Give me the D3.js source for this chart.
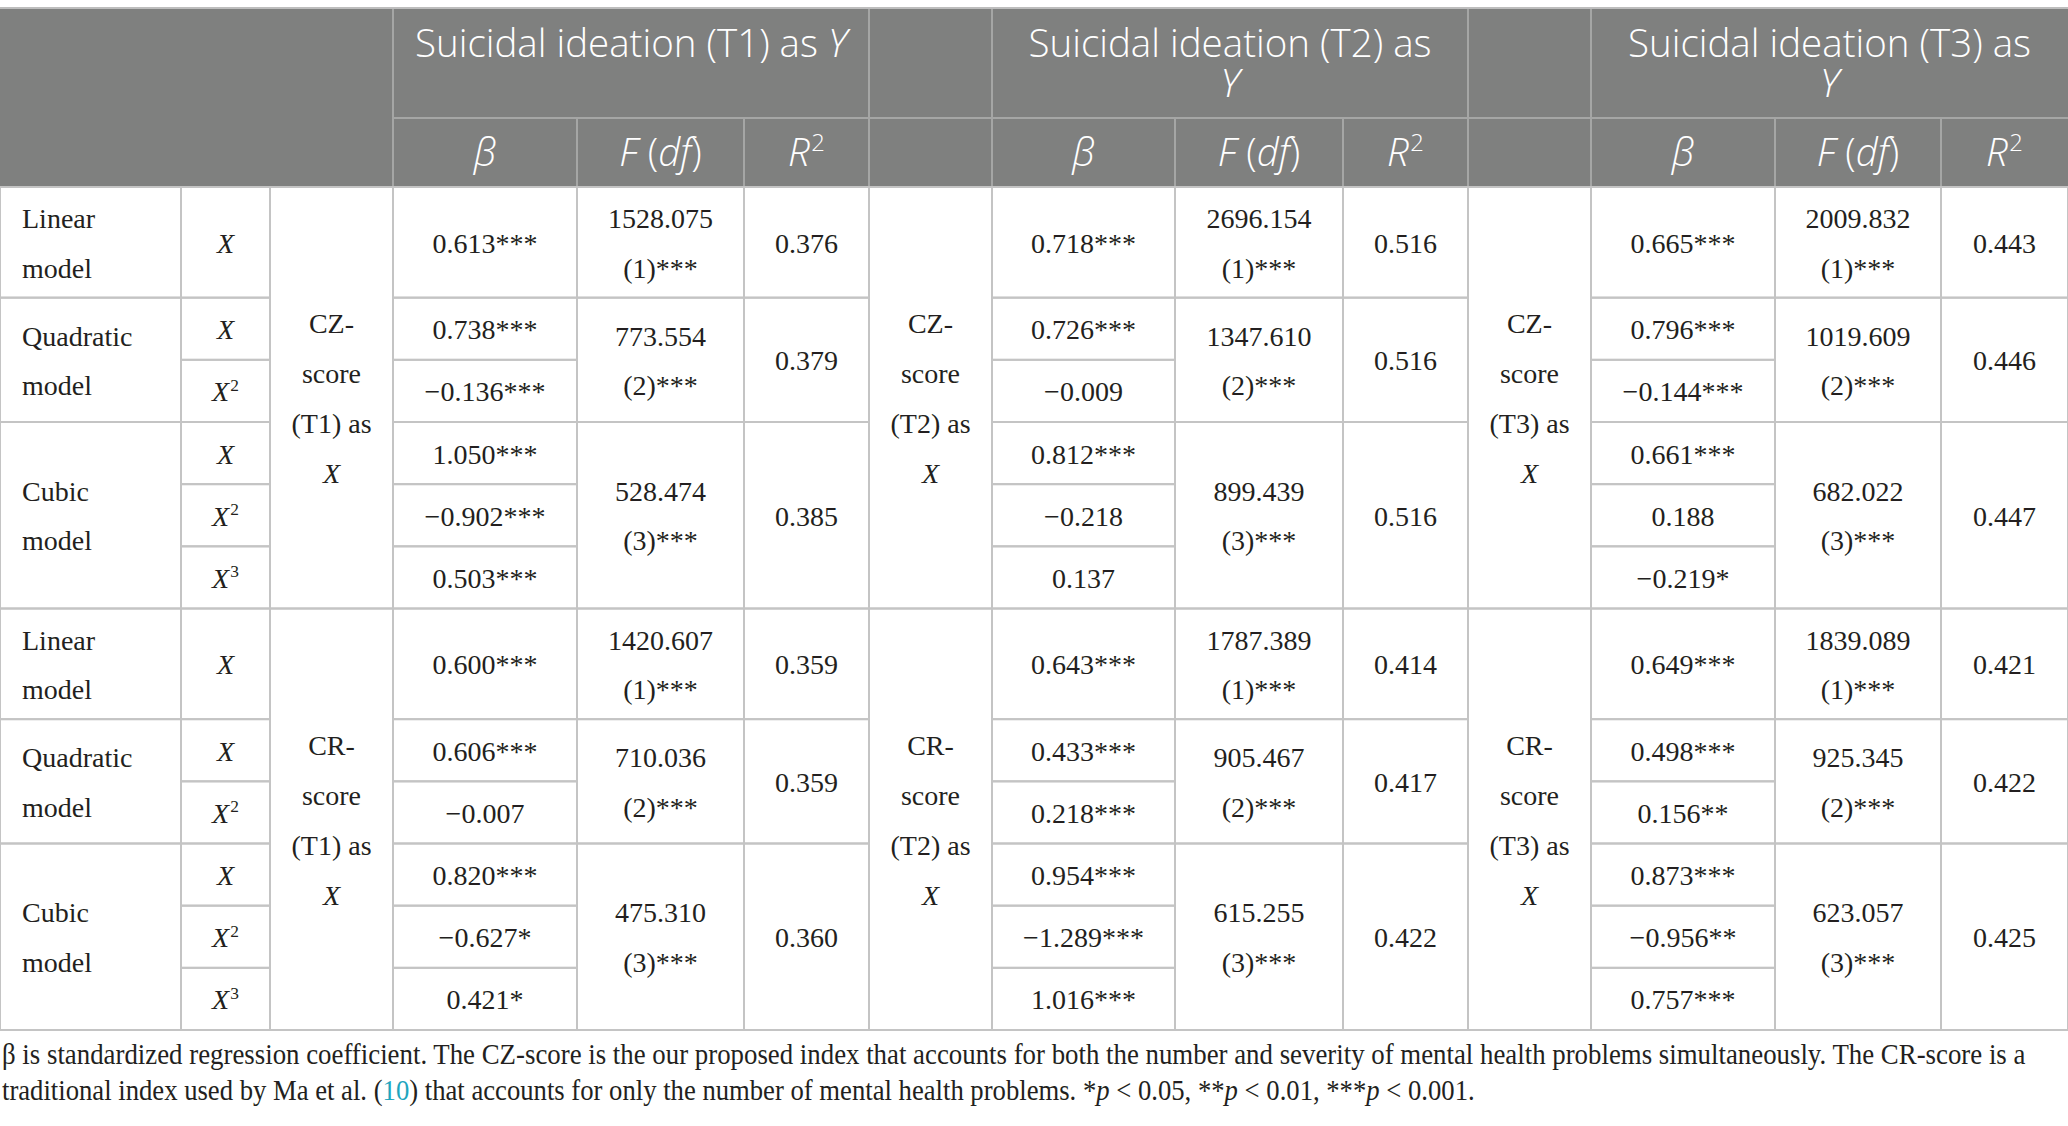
<!DOCTYPE html>
<html>
<head>
<meta charset="utf-8">
<script src="https://cdn.jsdelivr.net/npm/d3@7/dist/d3.min.js"></script>
<style>
  html, body { margin: 0; padding: 0; background: #ffffff; }
  svg { display: block; }
  .hd { font-family: "Open Sans", Lato, sans-serif; font-weight: 300; fill: #ffffff; }
  .bd { font-family: "Liberation Serif", "Times New Roman", serif; fill: #231f20; }
</style>
</head>
<body>
<svg id="chart" width="2068" height="1126"></svg>
<script>
// ---------------- DATA ----------------
const yTargets = ["Suicidal ideation (T1) as", "Suicidal ideation (T2) as", "Suicidal ideation (T3) as"];
const yWrap = [false, true, true];             // header wraps "Y" onto 2nd line
const subHeaders = ["β", "F (df)", "R²"];
const indexNames = ["CZ-score", "CR-score"];
const timeLabels = ["T1", "T2", "T3"];
const modelNames = ["Linear model", "Quadratic model", "Cubic model"];
const modelTerms = [["X"], ["X", "X²"], ["X", "X²", "X³"]];

// CZ-score as X
const betaCZ_T1 = ["0.613***", "0.738***", "−0.136***", "1.050***", "−0.902***", "0.503***"];
const fCZ_T1    = ["1528.075 (1)***", "773.554 (2)***", "528.474 (3)***"];
const r2CZ_T1   = ["0.376", "0.379", "0.385"];
const betaCZ_T2 = ["0.718***", "0.726***", "−0.009", "0.812***", "−0.218", "0.137"];
const fCZ_T2    = ["2696.154 (1)***", "1347.610 (2)***", "899.439 (3)***"];
const r2CZ_T2   = ["0.516", "0.516", "0.516"];
const betaCZ_T3 = ["0.665***", "0.796***", "−0.144***", "0.661***", "0.188", "−0.219*"];
const fCZ_T3    = ["2009.832 (1)***", "1019.609 (2)***", "682.022 (3)***"];
const r2CZ_T3   = ["0.443", "0.446", "0.447"];
// CR-score as X
const betaCR_T1 = ["0.600***", "0.606***", "−0.007", "0.820***", "−0.627*", "0.421*"];
const fCR_T1    = ["1420.607 (1)***", "710.036 (2)***", "475.310 (3)***"];
const r2CR_T1   = ["0.359", "0.359", "0.360"];
const betaCR_T2 = ["0.643***", "0.433***", "0.218***", "0.954***", "−1.289***", "1.016***"];
const fCR_T2    = ["1787.389 (1)***", "905.467 (2)***", "615.255 (3)***"];
const r2CR_T2   = ["0.414", "0.417", "0.422"];
const betaCR_T3 = ["0.649***", "0.498***", "0.156**", "0.873***", "−0.956**", "0.757***"];
const fCR_T3    = ["1839.089 (1)***", "925.345 (2)***", "623.057 (3)***"];
const r2CR_T3   = ["0.421", "0.422", "0.425"];

const footLine1 = "β is standardized regression coefficient. The CZ-score is the our proposed index that accounts for both the number and severity of mental health problems simultaneously. The CR-score is a";
const footLine2 = [
  {t: "traditional index used by Ma et al. ("}, {t: "10", link: true}, {t: ") that accounts for only the number of mental health problems. *"},
  {t: "p", i: true}, {t: " < 0.05, **"}, {t: "p", i: true}, {t: " < 0.01, ***"}, {t: "p", i: true}, {t: " < 0.001."}
];

// ---------------- LAYOUT ----------------
const W = 2068, H = 1126;
const colEdges = [0, 181, 270, 393, 577, 744, 869, 992, 1175, 1343, 1468, 1591, 1775, 1941, 2068];
const xCol = d3.scaleOrdinal().domain(d3.range(colEdges.length)).range(colEdges);
const headTop = 8, headMid = 118, headBot = 187, tableBot = 1030;
const modelUnits = [1.78, 2, 3];
const blockUnits = d3.sum(modelUnits);
const yU = d3.scaleLinear().domain([0, 2 * blockUnits]).range([headBot, tableBot]);

const bodyFont = 28, lineH = 49.5;
const gridColor = "#c4c4c4", headGrid = "#a5a6a5", headFill = "#7f807f";

const betaData = [[betaCZ_T1, betaCZ_T2, betaCZ_T3], [betaCR_T1, betaCR_T2, betaCR_T3]];
const fData    = [[fCZ_T1, fCZ_T2, fCZ_T3], [fCR_T1, fCR_T2, fCR_T3]];
const r2Data   = [[r2CZ_T1, r2CZ_T2, r2CZ_T3], [r2CR_T1, r2CR_T2, r2CR_T3]];

const svg = d3.select("#chart");
svg.append("rect").attr("width", W).attr("height", H).attr("fill", "#fff");

// ---------- rich text helper ----------
function parseTerm(s) {
  const m = s.match(/^([XY])([²³]?)$/);
  if (m) {
    const p = [{t: m[1], i: true}];
    if (m[2]) p.push({t: m[2] === "²" ? "2" : "3", sup: true});
    return p;
  }
  return [{t: s}];
}
function rich(g, x, y, anchor, parts, cls, size) {
  const t = g.append("text").attr("class", cls).attr("x", x).attr("y", y)
    .attr("text-anchor", anchor).attr("font-size", size);
  let raised = false;
  parts.forEach(p => {
    const ts = t.append("tspan").text(p.t);
    if (p.i) ts.attr("font-style", "italic");
    if (p.link) ts.attr("fill", "#1ea5be");
    if (p.nl != null) { ts.attr("x", x).attr("dy", p.nl); }
    if (p.sup) {
      ts.attr("font-size", size * 0.62).attr("dy", -size * 0.38).attr("dx", size * 0.04);
      raised = true;
    } else if (raised) {
      ts.attr("dy", size * 0.38); raised = false;
    }
  });
  return t;
}

// ---------------- HEADER ----------------
const hg = svg.append("g");
hg.append("rect").attr("x", 0).attr("y", headTop).attr("width", W).attr("height", headBot - headTop).attr("fill", headFill);

const headSize = 38.5;
timeLabels.forEach((tl, k) => {
  const c0 = 3 + 4 * k, c1 = c0 + 3;
  const cx = (xCol(c0) + xCol(c1)) / 2;
  if (!yWrap[k]) {
    rich(hg, cx, headTop + 49, "middle", [{t: yTargets[k] + " "}, {t: "Y", i: true}], "hd", headSize);
  } else {
    rich(hg, cx, headTop + 49, "middle", [{t: yTargets[k]}, {t: "Y", i: true, nl: 40}], "hd", headSize);
  }
  const subParts = [
    [{t: "β", i: true}],
    [{t: "F", i: true}, {t: " ("}, {t: "df", i: true}, {t: ")"}],
    [{t: "R", i: true}, {t: "2", sup: true}]
  ];
  subParts.forEach((sp, j) => {
    const sx = (xCol(c0 + j) + xCol(c0 + j + 1)) / 2;
    rich(hg, sx, headMid + 48, "middle", sp, "hd", headSize);
  });
});

// header grid lines
const hLines = [];
hLines.push({x1: xCol(3), x2: W, y1: headMid, y2: headMid});
[3, 6, 7, 10, 11].forEach(c => hLines.push({x1: xCol(c), x2: xCol(c), y1: headTop, y2: headBot}));
[4, 5, 8, 9, 12, 13].forEach(c => hLines.push({x1: xCol(c), x2: xCol(c), y1: headMid, y2: headBot}));
hg.selectAll("line.h").data(hLines).join("line")
  .attr("x1", d => d.x1).attr("x2", d => d.x2).attr("y1", d => d.y1).attr("y2", d => d.y2)
  .attr("stroke", headGrid).attr("stroke-width", 2);

// ---------------- BODY CELLS ----------------
const cells = [];
indexNames.forEach((idx, b) => {
  const b0 = b * blockUnits;
  timeLabels.forEach((tl, k) => {
    const c = 2 + 4 * k;
    cells.push({c0: c, c1: c + 1, u0: b0, u1: b0 + blockUnits, anchor: "middle", lh: 50,
      lines: [[{t: idx.split("-")[0] + "-"}], [{t: idx.split("-")[1]}], [{t: "(" + tl + ") as"}], [{t: "X", i: true}]]});
  });
  let u = b0, sub = 0;
  modelNames.forEach((mn, m) => {
    const mu0 = u, mu1 = u + modelUnits[m];
    const words = mn.split(" ");
    cells.push({c0: 0, c1: 1, u0: mu0, u1: mu1, anchor: "start", lines: words.map(w => [{t: w}])});
    const n = modelTerms[m].length;
    const su = modelUnits[m] / n;
    modelTerms[m].forEach((term, j) => {
      const s0 = mu0 + j * su, s1 = s0 + su;
      cells.push({c0: 1, c1: 2, u0: s0, u1: s1, anchor: "middle", lines: [parseTerm(term)]});
      timeLabels.forEach((tl, k) => {
        const c = 3 + 4 * k;
        cells.push({c0: c, c1: c + 1, u0: s0, u1: s1, anchor: "middle", lines: [[{t: betaData[b][k][sub + j]}]]});
      });
    });
    timeLabels.forEach((tl, k) => {
      const c = 4 + 4 * k;
      const fs = fData[b][k][m].split(" ");
      cells.push({c0: c, c1: c + 1, u0: mu0, u1: mu1, anchor: "middle", lines: fs.map(s => [{t: s}])});
      cells.push({c0: c + 1, c1: c + 2, u0: mu0, u1: mu1, anchor: "middle", lines: [[{t: r2Data[b][k][m]}]]});
    });
    sub += n;
    u = mu1;
  });
});

const bg = svg.append("g");
bg.selectAll("rect.cell").data(cells).join("rect").attr("class", "cell")
  .attr("x", d => xCol(d.c0)).attr("y", d => yU(d.u0))
  .attr("width", d => xCol(d.c1) - xCol(d.c0)).attr("height", d => yU(d.u1) - yU(d.u0))
  .attr("fill", "none").attr("stroke", gridColor).attr("stroke-width", 2);

cells.forEach(d => {
  const cy = (yU(d.u0) + yU(d.u1)) / 2 + 10.5;
  const n = d.lines.length, lh = d.lh || lineH;
  const x = d.anchor === "start" ? xCol(d.c0) + 22 : (xCol(d.c0) + xCol(d.c1)) / 2;
  d.lines.forEach((parts, i) => {
    rich(bg, x, cy + (i - (n - 1) / 2) * lh, d.anchor, parts, "bd", bodyFont);
  });
});

// top border
svg.append("line").attr("x1", 0).attr("x2", W).attr("y1", headTop).attr("y2", headTop)
  .attr("stroke", "#bdbdbd").attr("stroke-width", 2);

// ---------------- FOOTNOTE ----------------
function footText(parts, y, targetW) {
  const t = rich(svg, 0, 0, "start", parts, "bd", 30);
  const natural = t.node().getComputedTextLength();
  t.attr("transform", `translate(2,${y}) scale(${targetW / natural},1)`);
}
footText([{t: footLine1}], 1064, 2024);
footText(footLine2, 1100, 1473);
</script>
</body>
</html>
